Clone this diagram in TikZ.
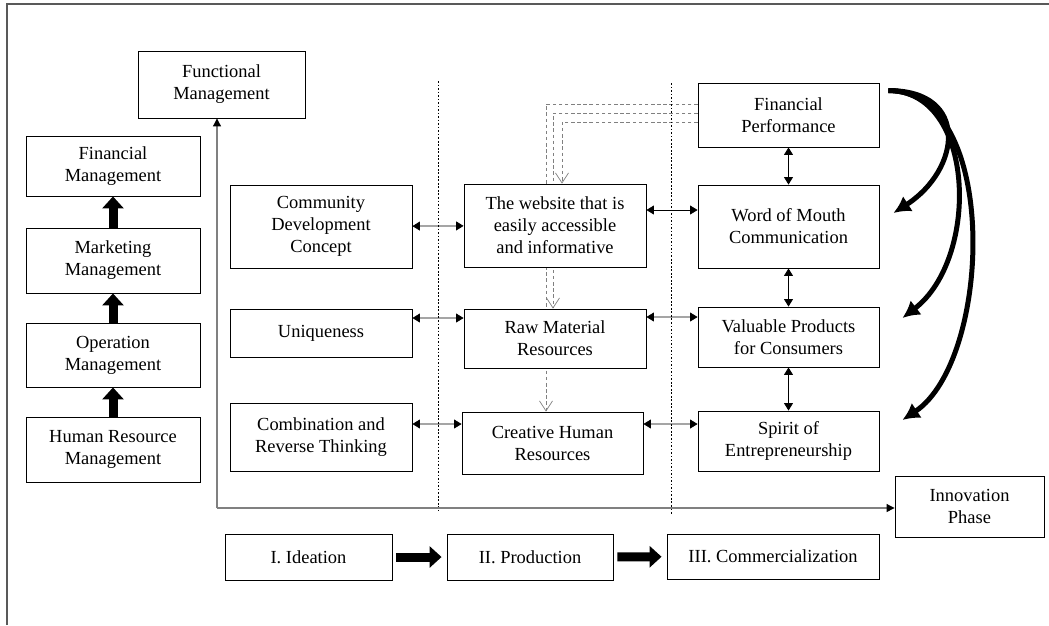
\documentclass[tikz,border=0pt]{standalone}
\usepackage{fontspec}
\setmainfont{Liberation Serif}
\usetikzlibrary{arrows.meta,backgrounds}

\begin{document}
\begin{tikzpicture}[x=0.2mm,y=-0.2mm,
	box/.style={draw,line width=0.5pt,fill=white,align=center,inner sep=1pt,font=\fontsize{10.5}{12.5}\selectfont},
	dbl/.style={{Triangle[length=1.5mm,width=1.8mm]}-{Triangle[length=1.5mm,width=1.8mm]},line width=0.45pt},
	fat/.style={-{Triangle[length=2.4mm,width=4.2mm]},line width=1.8mm},
	swoop/.style={-{Latex[length=3.4mm,width=3.6mm]},line width=1mm},
	feed/.style={-{Straight Barb[length=2mm,width=2.6mm]},gray,dash pattern=on 2pt off 1.5pt,line width=0.4pt},
	sep/.style={dash pattern=on 1pt off 1pt,line width=0.45pt},
	axis/.style={gray,line width=0.6pt,-{Triangle[length=1.6mm,width=1.6mm,black]}}]
				\useasboundingbox (0,0) rectangle (1049,625);
				\draw[gray!70!black,line width=0.7pt] (7,625) -- (7,4) -- (1049,4);
				\draw[sep] (438,81) -- (438,511);
				\draw[sep] (671,83) -- (671,514);

				\node[box,minimum width=33.4mm,minimum height=13.4mm] (fm) at (221.5,84.5) {Functional\\Management};
				\node[box,minimum width=34.8mm,minimum height=12mm] (finm) at (113,166) {Financial\\Management};
				\node[box,minimum width=34.8mm,minimum height=13mm] (mktm) at (113,260.5) {Marketing\\Management};
				\node[box,minimum width=34.8mm,minimum height=12.8mm] (opm) at (113,355) {Operation\\Management};
				\node[box,minimum width=34.8mm,minimum height=13mm] (hrm) at (113,449.5) {Human Resource\\Management};
				\draw[fat] (hrm) to (opm);
				\draw[fat] (opm) to (mktm);
				\draw[fat] (mktm) to (finm);

				\node[box,minimum width=36.4mm,minimum height=16.6mm] (cdc) at (321,226.5) {Community\\Development\\Concept};
				\node[box,minimum width=36.4mm,minimum height=9.6mm] (uniq) at (321,333) {Uniqueness};
				\node[box,minimum width=36.4mm,minimum height=13.6mm] (crt) at (321,437) {Combination and\\Reverse Thinking};

				\node[box,minimum width=36.4mm,minimum height=16.6mm] (web) at (555,225.5) {The website that is\\easily accessible\\and informative};
				\node[box,minimum width=36.4mm,minimum height=11.8mm] (raw) at (555,338.5) {Raw Material\\Resources};
				\node[box,minimum width=36.2mm,minimum height=12.4mm] (chr) at (552.5,443) {Creative Human\\Resources};

				\node[box,minimum width=36.2mm,minimum height=12.8mm] (fp) at (788.5,115) {Financial\\Performance};
				\node[box,minimum width=36.2mm,minimum height=16.6mm] (wom) at (788.5,226.5) {Word of Mouth\\Communication};
				\node[box,minimum width=36.2mm,minimum height=12mm] (vpc) at (788.5,337) {Valuable Products\\for Consumers};
				\node[box,minimum width=36.2mm,minimum height=12mm] (soe) at (788.5,441) {Spirit of\\Entrepreneurship};

				\node[box,minimum width=29.8mm,minimum height=12.2mm] (ip) at (969.5,506.5) {Innovation\\Phase};
				\node[box,minimum width=33.4mm,minimum height=9.2mm] (idea) at (308.5,557) {I. Ideation};
				\node[box,minimum width=33.2mm,minimum height=9.2mm] (prod) at (530,557) {II. Production};
				\node[box,minimum width=42.4mm,minimum height=9mm] (comm) at (773,556.5) {III. Commercialization};
				\draw[fat,shorten <=0.8mm,shorten >=1mm] (idea) to (prod);
				\draw[fat,shorten <=0.8mm,shorten >=1mm] (prod) to (comm);

				\draw[dbl] (cdc) to (web);
				\draw[dbl] ([yshift=3mm]uniq.east) to ([yshift=4.1mm]raw.west);
				\draw[dbl] ([yshift=2.6mm]crt.east) to ([yshift=3.8mm]chr.west);
				\draw[dbl] ([yshift=3.1mm]web.east) to ([yshift=3.3mm]wom.west);
				\draw[dbl] ([yshift=4.3mm]raw.east) to ([yshift=4mm]vpc.west);
				\draw[dbl] ([yshift=3.8mm]chr.east) to ([yshift=3.4mm]soe.west);
				\draw[dbl] (fp) to (wom);
				\draw[dbl] (wom) to (vpc);
				\draw[dbl] (vpc) to (soe);

				\begin{scope}[on background layer]
				\draw[feed] ([yshift=2.2mm]fp.west) -| ([xshift=-1.3mm]chr.north);
				\draw[feed] ([yshift=0.4mm]fp.west) -| ([xshift=-0.4mm]raw.north);
				\draw[feed] ([yshift=-1.4mm]fp.west) -| ([xshift=1.4mm]web.north);
				\end{scope}

				\coordinate (fpo) at ([xshift=1.8mm,yshift=-1.6mm]fp.north east);
				\draw[swoop] (fpo) .. controls +(82,0) and +(67,-43) .. ([xshift=2.8mm,yshift=2.7mm]wom.east);
				\draw[swoop] (fpo) .. controls +(87,0) and +(78,-60) .. ([xshift=4.6mm,yshift=3.8mm]vpc.east);
				\draw[swoop] (fpo) .. controls +(112,0) and +(90,-60) .. ([xshift=4.6mm,yshift=4.2mm]soe.east);

				\coordinate (o) at (217,508);
				\draw[axis] (o) -- (o |- fm.south);
				\draw[axis] (o) -- (o -| ip.west);
			\end{tikzpicture}
\end{document}
